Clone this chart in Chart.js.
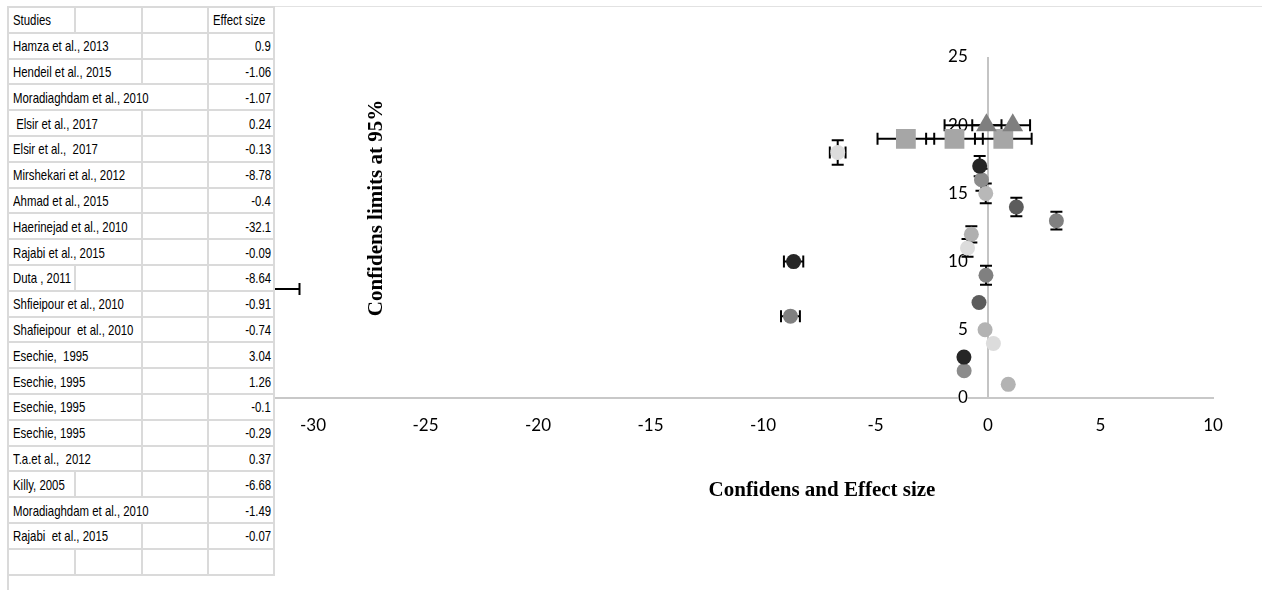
<!DOCTYPE html>
<html>
<head>
<meta charset="utf-8">
<script src="https://cdn.jsdelivr.net/npm/chart.js@4.4.1/dist/chart.umd.min.js"></script>
<style>
  html, body { margin: 0; padding: 0; background: #fff; }
  #wrap { position: relative; width: 1262px; height: 590px; overflow: hidden; }
  #chart { position: absolute; left: 0; top: 0; }
  #sheet {
    position: absolute; left: 7px; top: 6px; z-index: 2; width: 266px;
    border-collapse: collapse; table-layout: fixed; background: #fff;
    font-family: "Liberation Sans", Arial, sans-serif;
    font-size: 15px; color: #000;
  }
  #sheet td {
    border: 2px solid #dadada; height: 23.8px; padding: 0 2px 0 4px;
    white-space: pre; overflow: visible; line-height: 15px;
  }
  #sheet td span { display: inline-block; transform: scaleX(0.76); transform-origin: left center; }
  #sheet td.num { text-align: right; padding-right: 2px; }
  #sheet td.num span { transform-origin: right center; }
  #sheetTop { position: absolute; left: 273px; top: 6px; width: 989px; height: 0; border-top: 1px solid #e2e2e2; }
  #sheetLeft { position: absolute; left: 7px; top: 570px; width: 0; height: 20px; border-left: 2px solid #dadada; }
  .axisTitle {
    position: absolute; z-index: 3; font-family: "Liberation Serif", "Times New Roman", serif;
    font-weight: bold; font-size: 21px; color: #000; text-align: center; white-space: nowrap;
    width: 300px; height: 24px; line-height: 24px;
  }
  #yTitle { left: 225px; top: 196px; transform: rotate(-90deg); }
  #xTitle { left: 672px; top: 477px; }
</style>
</head>
<body>
<div id="wrap">
  <canvas id="chart" width="1262" height="590"></canvas>
  <div id="sheetTop"></div>
  <table id="sheet"><colgroup><col style="width:67px"><col style="width:66.5px"><col style="width:66px"><col style="width:66.5px"></colgroup><tbody id="sheetBody"></tbody></table>
  <div id="sheetLeft"></div>
  <div class="axisTitle" id="yTitle">Confidens limits at 95%</div>
  <div class="axisTitle" id="xTitle">Confidens and Effect size</div>
</div>
<script>
// studies as listed in the sheet (row order = y position 1..20)
const studies = [
  'Hamza et al., 2013', 'Hendeil et al., 2015', 'Moradiaghdam et al., 2010', ' Elsir et al., 2017',
  'Elsir et al.,  2017', 'Mirshekari et al., 2012', 'Ahmad et al., 2015', 'Haerinejad et al., 2010',
  'Rajabi et al., 2015', 'Duta , 2011', 'Shfieipour et al., 2010', 'Shafieipour  et al., 2010',
  'Esechie,  1995', 'Esechie, 1995', 'Esechie, 1995', 'Esechie, 1995',
  'T.a.et al.,  2012', 'Killy, 2005', 'Moradiaghdam et al., 2010', 'Rajabi  et al., 2015'
];
const effectSizes = [0.9, -1.06, -1.07, 0.24, -0.13, -8.78, -0.4, -32.1, -0.09, -8.64,
  -0.91, -0.74, 3.04, 1.26, -0.1, -0.29, 0.37, -6.68, -1.49, -0.07];
// x positions of the markers as they appear on the plot
const plotX = [0.9, -1.06, -1.07, 0.24, -0.13, -8.78, -0.4, -32.1, -0.09, -8.64,
  -0.91, -0.74, 3.04, 1.26, -0.1, -0.29, -0.37, -6.68, -1.49, -0.07];
const plotY = [1, 2, 3, 4, 5, 6, 7, 8, 9, 10, 11, 12, 13, 14, 15, 16, 17, 18, 19, 20];
const xErrLow  = [0, 0, 0, 0, 0, 0.42, 0, 1.5, 0, 0.43, 0, 0, 0, 0, 0, 0, 0, 0.35, 1.26, 1.86];
const xErrHigh = [0, 0, 0, 0, 0, 0.42, 0, 1.5, 0, 0.43, 0, 0, 0, 0, 0, 0, 0, 0.35, 1.26, 0.67];
const yErr     = [0, 0, 0, 0, 0, 0, 0, 0, 0.7, 0, 0.65, 0.6, 0.65, 0.68, 0.72, 0.8, 0.75, 0.9, 0, 0];
const markerColors = ['#b3b3b3', '#8c8c8c', '#262626', '#dcdcdc', '#b3b3b3', '#808080', '#5c5c5c', '#b3b3b3',
  '#808080', '#262626', '#dcdcdc', '#b0b0b0', '#808080', '#5c5c5c', '#b8b8b8', '#8c8c8c',
  '#262626', '#dcdcdc', '#a6a6a6', '#7f7f7f'];
const markerShapes = ['circle', 'circle', 'circle', 'circle', 'circle', 'circle', 'circle', 'circle', 'circle', 'circle',
  'circle', 'circle', 'circle', 'circle', 'circle', 'circle', 'circle', 'circle', 'rect', 'triangle'];

// extra (pooled) markers beside the last two rows
const extraX = [-3.65, 0.68, 1.1];
const extraY = [19, 19, 20];
const extraErrLow = [1.26, 1.26, 1.8];
const extraErrHigh = [1.26, 1.26, 0.77];
const extraShapes = ['rect', 'rect', 'triangle'];
const extraColors = ['#a6a6a6', '#a6a6a6', '#7f7f7f'];

const xTicks = [-30, -25, -20, -15, -10, -5, 0, 5, 10];
const yTicks = [0, 5, 10, 15, 20, 25];

// ---- spreadsheet table ----
const body = document.getElementById('sheetBody');
const measure = document.createElement('canvas').getContext('2d');
measure.font = '15px "Liberation Sans", Arial, sans-serif';
function cell(text, cls) {
  const td = document.createElement('td');
  if (cls) td.className = cls;
  if (text) {
    const s = document.createElement('span');
    s.textContent = text;
    td.appendChild(s);
  }
  return td;
}
function addRow(label, value, isHeader) {
  const tr = document.createElement('tr');
  const w = measure.measureText(label).width * 0.76;
  const span = label ? Math.min(3, Math.ceil((w + 8) / 66.7)) : 1;
  const first = cell(label);
  first.colSpan = span;
  tr.appendChild(first);
  for (let i = span; i < 3; i++) tr.appendChild(cell(''));
  tr.appendChild(cell(value, isHeader ? '' : 'num'));
  body.appendChild(tr);
}
addRow('Studies', 'Effect size', true);
studies.forEach((s, i) => addRow(s, String(effectSizes[i]), false));
addRow('', '', false);

// ---- chart ----
const radiusFor = s => s === 'rect' ? 14 : s === 'triangle' ? 12 : 7.5;
const mainPoints = plotX.map((x, i) => ({x: x, y: plotY[i], xLo: xErrLow[i], xHi: xErrHigh[i], yE: yErr[i]}));
const extraPoints = extraX.map((x, i) => ({x: x, y: extraY[i], xLo: extraErrLow[i], xHi: extraErrHigh[i], yE: 0}));

const errorBars = {
  id: 'errorBars',
  beforeDatasetsDraw(chart) {
    const {ctx, chartArea, scales: {x, y}} = chart;
    ctx.save();
    ctx.beginPath();
    ctx.rect(chartArea.left, chartArea.top - 10, chartArea.width, chartArea.height + 10);
    ctx.clip();
    ctx.strokeStyle = '#000';
    ctx.lineWidth = 2;
    const cap = 6;
    chart.data.datasets.forEach(ds => ds.data.forEach(p => {
      const px = x.getPixelForValue(p.x);
      const py = y.getPixelForValue(p.y);
      ctx.beginPath();
      if (p.xLo || p.xHi) {
        const a = x.getPixelForValue(p.x - p.xLo);
        const b = x.getPixelForValue(p.x + p.xHi);
        ctx.moveTo(a, py); ctx.lineTo(b, py);
        ctx.moveTo(a, py - cap); ctx.lineTo(a, py + cap);
        ctx.moveTo(b, py - cap); ctx.lineTo(b, py + cap);
      }
      if (p.yE) {
        const a = y.getPixelForValue(p.y - p.yE);
        const b = y.getPixelForValue(p.y + p.yE);
        ctx.moveTo(px, a); ctx.lineTo(px, b);
        ctx.moveTo(px - cap, a); ctx.lineTo(px + cap, a);
        ctx.moveTo(px - cap, b); ctx.lineTo(px + cap, b);
      }
      ctx.stroke();
    }));
    ctx.restore();
  }
};

const tickFont = {family: 'Lato, "Open Sans", sans-serif', size: 17};

new Chart(document.getElementById('chart'), {
  type: 'scatter',
  data: {
    datasets: [
      {
        label: 'Studies',
        data: mainPoints,
        pointStyle: markerShapes,
        pointRadius: markerShapes.map(radiusFor),
        backgroundColor: markerColors,
        borderWidth: 0
      },
      {
        label: 'Pooled',
        data: extraPoints,
        pointStyle: extraShapes,
        pointRadius: extraShapes.map(radiusFor),
        backgroundColor: extraColors,
        borderWidth: 0
      }
    ]
  },
  options: {
    responsive: false,
    animation: false,
    events: [],
    layout: {padding: {left: 200.5, right: 49, top: 57, bottom: 192}},
    plugins: {legend: {display: false}, tooltip: {enabled: false}},
    scales: {
      x: {
        type: 'linear',
        position: {y: 0},
        min: -35,
        max: 10,
        afterBuildTicks: axis => { axis.ticks = xTicks.map(v => ({value: v})); },
        ticks: {font: tickFont, color: '#000', padding: 17},
        grid: {
          drawTicks: false,
          lineWidth: 2,
          color: c => (c.tick && c.tick.value === 0) ? '#c4c4c4' : 'rgba(0,0,0,0)'
        },
        border: {display: true, color: '#c8c8c8', width: 2}
      },
      y: {
        type: 'linear',
        position: {x: -0.9},
        min: 0,
        max: 25,
        z: 1,
        afterBuildTicks: axis => { axis.ticks = yTicks.map(v => ({value: v})); },
        ticks: {font: tickFont, color: '#000', showLabelBackdrop: true, backdropColor: '#fff', backdropPadding: 0},
        grid: {display: false},
        border: {display: false}
      }
    }
  },
  plugins: [errorBars]
});
</script>
</body>
</html>
